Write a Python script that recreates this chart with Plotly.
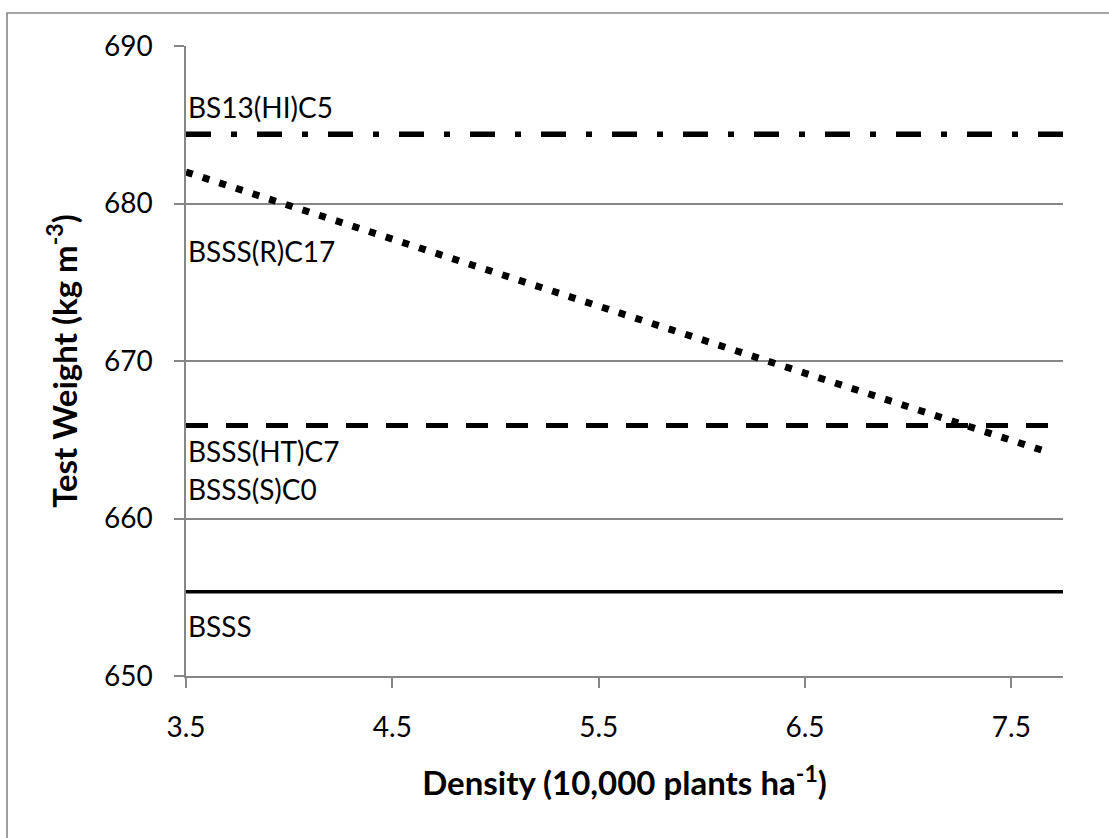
import plotly.graph_objects as go

# ---- data ----
density_line = [3.5, 7.75]
density_r_c17 = [3.5, 7.68]

bs13_hi_c5 = [684.4, 684.4]
bsss_ht_c7_s_c0 = [665.9, 665.9]
bsss = [655.35, 655.35]
bsss_r_c17 = [682.0, 664.2]

label_texts = ["BS13(HI)C5", "BSSS(R)C17", "BSSS(HT)C7", "BSSS(S)C0", "BSSS"]
label_values = [686.1, 677.0, 664.3, 661.9, 653.2]

x_ticks = [3.5, 4.5, 5.5, 6.5, 7.5]
y_ticks = [650, 660, 670, 680, 690]

FONT = "Lato"
GRID = "#868686"

fig = go.Figure()

fig.add_trace(go.Scatter(x=density_line, y=bs13_hi_c5, mode="lines",
                         line=dict(color="black", width=5.5, dash="25px,20px,6px,20px"),
                         name="BS13(HI)C5"))
fig.add_trace(go.Scatter(x=density_r_c17, y=bsss_r_c17, mode="lines",
                         line=dict(color="black", width=7, dash="7px,10.5px"),
                         name="BSSS(R)C17"))
fig.add_trace(go.Scatter(x=density_line, y=bsss_ht_c7_s_c0, mode="lines",
                         line=dict(color="black", width=5, dash="22px,18px"),
                         name="BSSS(HT)C7 / BSSS(S)C0"))
fig.add_trace(go.Scatter(x=density_line, y=bsss, mode="lines",
                         line=dict(color="black", width=3.5),
                         name="BSSS"))

for t, v in zip(label_texts, label_values):
    fig.add_annotation(x=3.5, y=v, xref="x", yref="y", text=t, showarrow=False,
                       xanchor="left", yanchor="middle", xshift=0,
                       font=dict(family=FONT, size=28, color="black"))

# outer frame (only top and left visible in the reference)
fig.add_shape(type="rect", xref="paper", yref="paper",
              x0=-0.2041, x1=1.08, y0=-0.3, y1=1.0524,
              line=dict(color=GRID, width=1.6), fillcolor="rgba(0,0,0,0)", layer="below")

fig.update_layout(
    width=1109, height=838,
    margin=dict(l=186, r=46, t=46, b=162),
    paper_bgcolor="white", plot_bgcolor="white",
    showlegend=False,
    font=dict(family=FONT, color="black"),
    xaxis=dict(
        range=[3.5, 7.75], tickmode="array", tickvals=x_ticks,
        ticktext=[f"{v:.1f}" for v in x_ticks],
        showgrid=False, zeroline=False,
        showline=True, linecolor=GRID, linewidth=1.5,
        ticks="outside", ticklen=10, tickcolor=GRID, tickwidth=1.5,
        tickfont=dict(family=FONT, size=28, color="black"),
        ticklabelstandoff=16,
        title=dict(text="<b>Density (10,000 plants ha<sup>-1</sup>)</b>",
                   font=dict(family=FONT, size=33, color="black"), standoff=30),
    ),
    yaxis=dict(
        range=[650, 690], tickmode="array", tickvals=y_ticks,
        showgrid=True, gridcolor=GRID, gridwidth=1.5, zeroline=False,
        showline=True, linecolor=GRID, linewidth=1.5,
        ticks="outside", ticklen=10, tickcolor=GRID, tickwidth=1.5,
        tickfont=dict(family=FONT, size=28, color="black"),
        ticklabelstandoff=16,
        title=dict(text="<b>Test Weight (kg m<sup>-3</sup>)</b>",
                   font=dict(family=FONT, size=33, color="black"), standoff=16),
    ),
)

fig.write_html("out.html", config={"displayModeBar": False},
               post_script="document.body.style.margin='0';document.body.style.overflow='hidden';")
